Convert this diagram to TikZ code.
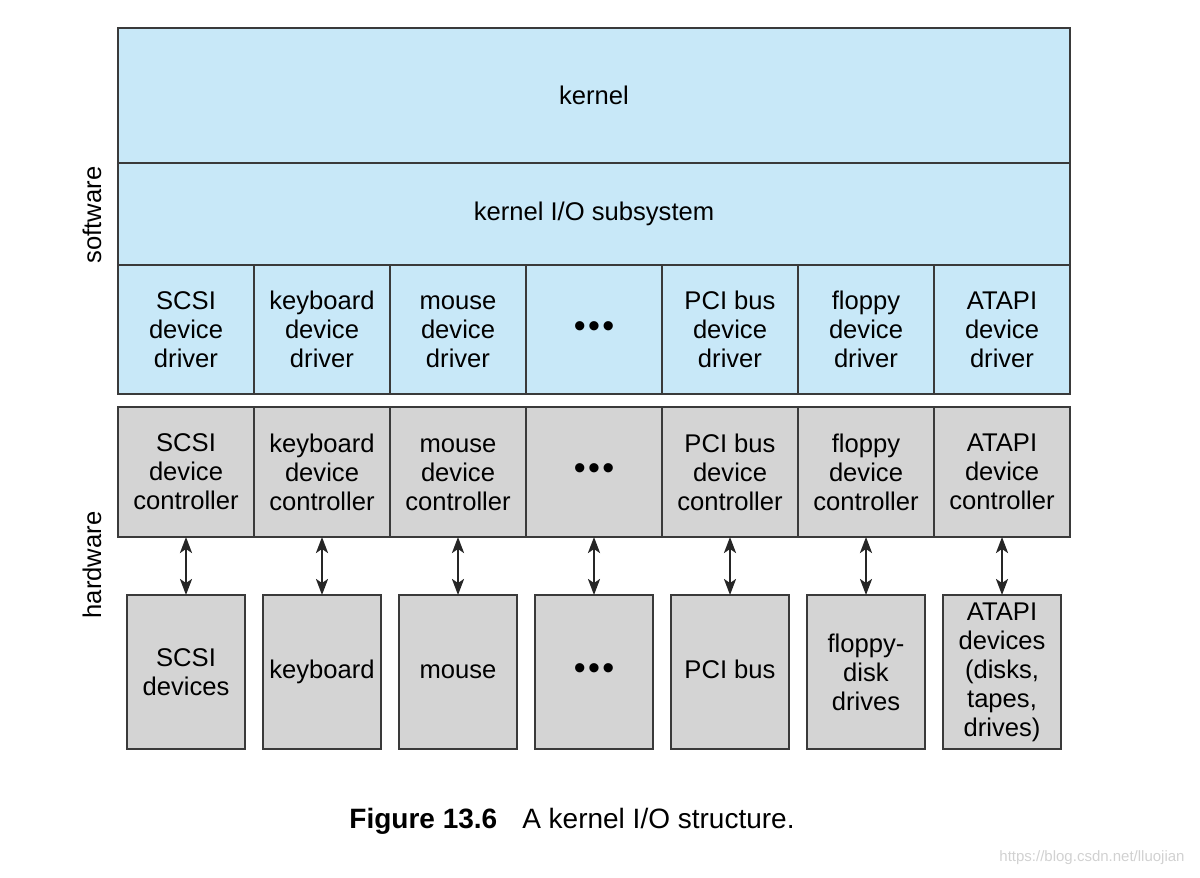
\documentclass[tikz,border=0pt]{standalone}
\usepackage{fontspec}
\setmainfont{Liberation Sans}
\usetikzlibrary{positioning,arrows.meta}
\definecolor{swblue}{HTML}{C8E8F8}
\definecolor{hwgray}{HTML}{D4D4D4}
\definecolor{edgegray}{HTML}{3A3A3A}
\newcommand{\bulletrow}{\raisebox{-1.5pt}{\fontsize{17}{14.5}\selectfont\textbullet\hspace{1.2pt}\textbullet\hspace{1.2pt}\textbullet}}
\tikzset{%
  box/.style = {draw=edgegray, line width=0.9pt, align=center,
    inner sep=0pt, outer sep=0pt,
    font=\fontsize{12.8}{14.5}\selectfont},
  layer/.style = {box, fill=swblue, minimum width=476pt},
  driver/.style = {box, fill=swblue, minimum width=68pt, minimum height=64.5pt},
  ctrl/.style = {box, fill=hwgray, minimum width=68pt, minimum height=65pt},
  device/.style = {box, fill=hwgray, minimum width=59pt, minimum height=77pt},
  link/.style = {draw=black!85, line width=1.2pt,
    {Stealth[length=8pt,width=6pt,inset=2pt]}-{Stealth[length=8pt,width=6pt,inset=2pt]}}
}

\begin{document}
\begin{tikzpicture}[x=0.5pt,y=-0.5pt]
  \useasboundingbox (0,0) rectangle (1200,878);
  % software side
  \node[layer, minimum height=67.5pt, anchor=north west] (kernel) at (118,28) {kernel};
  \node[layer, minimum height=51pt, below=0pt of kernel] (iosub) {kernel I/O subsystem};
  \node[driver, anchor=north west] (drvscsi) at (iosub.south west) {SCSI\\device\\driver};
  \node[driver, right=0pt of drvscsi] (drvkbd) {keyboard\\device\\driver};
  \node[driver, right=0pt of drvkbd] (drvmouse) {\vphantom{k}mouse\\device\\driver};
  \node[driver, right=0pt of drvmouse] (drvdots) {\bulletrow};
  \node[driver, right=0pt of drvdots] (drvpci) {PCI bus\\device\\driver};
  \node[driver, right=0pt of drvpci] (drvfloppy) {floppy\\device\\driver};
  \node[driver, right=0pt of drvfloppy] (drvatapi) {ATAPI\\device\\driver};
  % hardware side
  \node[ctrl, below=6.5pt of drvscsi] (ctlscsi) {SCSI\\device\\controller};
  \node[ctrl, right=0pt of ctlscsi] (ctlkbd) {keyboard\\device\\controller};
  \node[ctrl, right=0pt of ctlkbd] (ctlmouse) {\vphantom{k}mouse\\device\\controller};
  \node[ctrl, right=0pt of ctlmouse] (ctldots) {\bulletrow};
  \node[ctrl, right=0pt of ctldots] (ctlpci) {PCI bus\\device\\controller};
  \node[ctrl, right=0pt of ctlpci] (ctlfloppy) {floppy\\device\\controller};
  \node[ctrl, right=0pt of ctlfloppy] (ctlatapi) {ATAPI\\device\\controller};
  \node[device, anchor=north] (devscsi) at ([yshift=-29pt]ctlscsi.south) {SCSI\\devices};
  \node[device, right=9pt of devscsi] (devkbd) {keyboard};
  \node[device, right=9pt of devkbd] (devmouse) {\vphantom{ky}mouse};
  \node[device, right=9pt of devmouse] (devdots) {\bulletrow};
  \node[device, right=9pt of devdots] (devpci) {PCI bus\vphantom{y}};
  \node[device, right=9pt of devpci] (devfloppy) {floppy-\\disk\\drives};
  \node[device, right=9pt of devfloppy] (devatapi) {ATAPI\\devices\\(disks,\\tapes,\\drives)};
  \draw[link] (ctlscsi.south) -- (devscsi.north);
  \draw[link] (ctlkbd.south) -- (devkbd.north);
  \draw[link] (ctlmouse.south) -- (devmouse.north);
  \draw[link] (ctldots.south) -- (devdots.north);
  \draw[link] (ctlpci.south) -- (devpci.north);
  \draw[link] (ctlfloppy.south) -- (devfloppy.north);
  \draw[link] (ctlatapi.south) -- (devatapi.north);
  % side labels
  \node[rotate=90, font=\fontsize{12.8}{14.5}\selectfont] (swlabel) at (92,215) {software};
  \node[rotate=90, font=\fontsize{12.8}{14.5}\selectfont] (hwlabel) at (92,565) {hardware};
  % caption
  \node[font=\fontsize{14}{16}\selectfont] (caption) at (572,821)
    {\textbf{Figure 13.6}\hspace{12.5pt}A kernel I/O structure.};
  \node[font=\fontsize{7.5}{9}\selectfont, text=black!18] (mark) at (1092,858) {https://blog.csdn.net/lluojian};
\end{tikzpicture}
\end{document}
